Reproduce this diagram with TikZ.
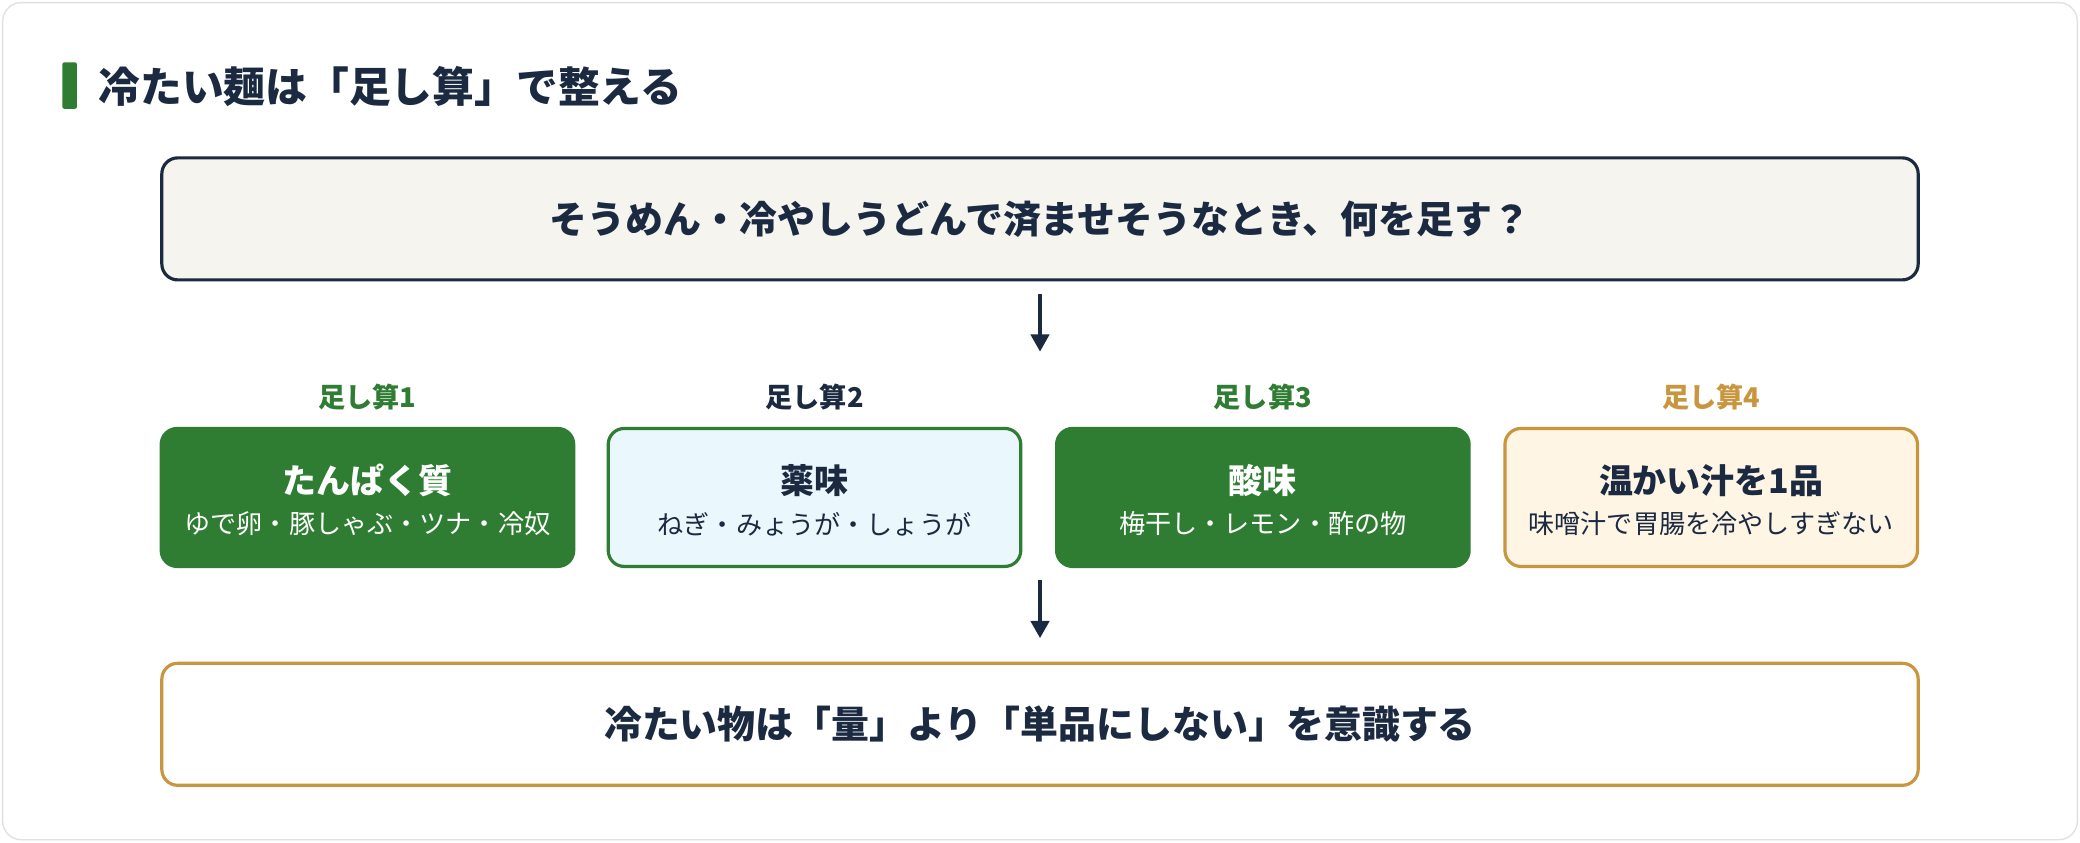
\documentclass[tikz,border=0pt]{standalone}
\usepackage{fontspec}
\newfontfamily\jp{Noto Sans CJK JP}
\usetikzlibrary{arrows.meta}
\definecolor{navy}{HTML}{1B2A41}
\definecolor{grn}{HTML}{2E7D32}
\definecolor{gold}{HTML}{C8963E}
\definecolor{cream}{HTML}{FFF5E4}
\definecolor{lblue}{HTML}{EAF7FC}
\definecolor{paper}{HTML}{F5F4EF}
\begin{document}
\begin{tikzpicture}[x=1pt,y=-1pt,
  wide/.style={rounded corners=12pt,line width=2.4pt,minimum width=1324pt,minimum height=92pt,inner sep=0pt,font=\jp\bfseries\fontsize{28.6}{32}\selectfont,text=navy},
  card/.style={rounded corners=12pt,line width=2.4pt,minimum width=311pt,minimum height=104pt,inner sep=0pt,align=center},
  lab/.style={font=\jp\bfseries\fontsize{20.5}{24}\selectfont},
  arr/.style={draw=navy,line width=2.4pt,-{Triangle[length=13pt,width=14pt]}},
  ct/.style={font=\jp\bfseries\fontsize{25.6}{30}\selectfont},
  cs/.style={font=\jp\fontsize{19.7}{23}\selectfont}]
\useasboundingbox (0,0) rectangle (1568,635);
\draw[draw=black!12,fill=white,line width=1pt,rounded corners=14pt] (2,2) rectangle (1566,633);
\fill[grn,rounded corners=1.5pt] (47,47) rectangle (58,82);
\node[anchor=west,text=navy,font=\jp\bfseries\fontsize{31.5}{36}\selectfont,inner sep=0pt] (title) at (74,65) {冷たい麺は「足し算」で整える};
\node[wide,draw=navy,fill=paper] (q) at (784,165) {そうめん・冷やしうどんで済ませそうなとき、何を足す？};
\node[lab,text=grn] (l1) at (277,299) {足し算1};
\node[lab,text=navy] (l2) at (614,299) {足し算2};
\node[lab,text=grn] (l3) at (952,299) {足し算3};
\node[lab,text=gold] (l4) at (1290,299) {足し算4};
\node[card,draw=grn,fill=grn] (c1) at (277,375) {};
\node[card,draw=grn,fill=lblue] (c2) at (614,375) {};
\node[card,draw=grn,fill=grn] (c3) at (952,375) {};
\node[card,draw=gold,fill=cream] (c4) at (1290,375) {};
\node[ct,text=white] (t1) at (277,362) {たんぱく質};
\node[cs,text=white] (s1) at (277,395) {ゆで卵・豚しゃぶ・ツナ・冷奴};
\node[ct,text=navy] (t2) at (614,362) {薬味};
\node[cs,text=navy] (s2) at (614,395) {ねぎ・みょうが・しょうが};
\node[ct,text=white] (t3) at (952,362) {酸味};
\node[cs,text=white] (s3) at (952,395) {梅干し・レモン・酢の物};
\node[ct,text=navy] (t4) at (1290,362) {温かい汁を1品};
\node[cs,text=navy] (s4) at (1290,395) {味噌汁で胃腸を冷やしすぎない};
\node[wide,draw=gold,fill=white] (b) at (784,546) {冷たい物は「量」より「単品にしない」を意識する};
\coordinate (a1) at (784,222); \coordinate (a2) at (784,265);
\coordinate (a3) at (784,437); \coordinate (a4) at (784,481);
\draw[arr] (a1) -- (a2);
\draw[arr] (a3) -- (a4);
\end{tikzpicture}
\end{document}
